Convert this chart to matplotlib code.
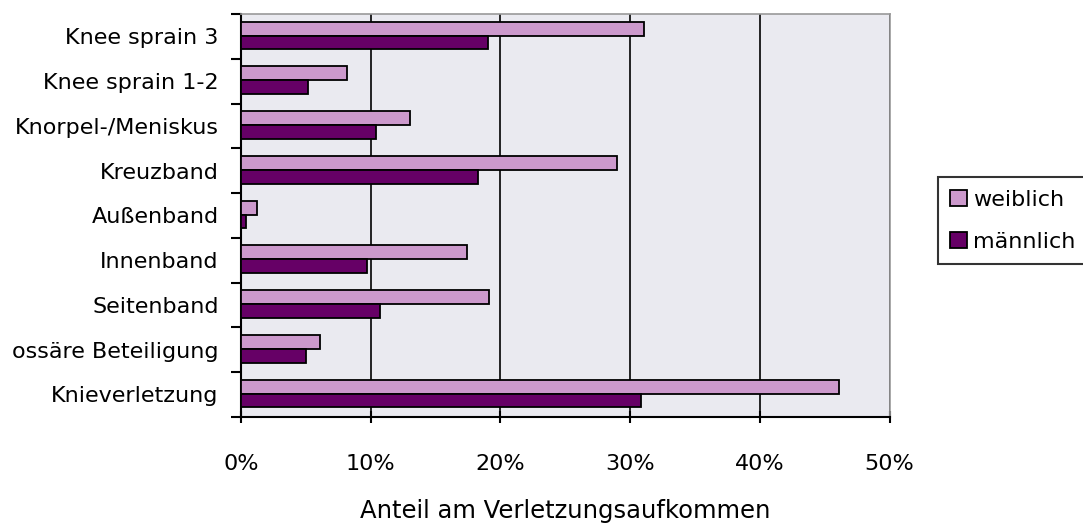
import numpy as np
import matplotlib.pyplot as plt
from matplotlib.ticker import FixedLocator, FuncFormatter

plt.rcParams['font.family'] = ['DejaVu Sans']

# Kategorien von unten nach oben
kategorien = ["Knieverletzung", "ossäre Beteiligung", "Seitenband", "Innenband",
              "Außenband", "Kreuzband", "Knorpel-/Meniskus", "Knee sprain 1-2",
              "Knee sprain 3"]
weiblich = [46.1, 6.1, 19.1, 17.4, 1.25, 29.0, 13.0, 8.2, 31.1]
maennlich = [30.8, 5.0, 10.7, 9.7, 0.35, 18.3, 10.4, 5.15, 19.05]

fig = plt.figure(figsize=(10.83, 5.23), dpi=100)
ax = fig.add_axes([0.2225, 0.203, 0.599, 0.770])
ax.set_facecolor('#EAEAF0')

y = np.arange(len(kategorien))
h = 0.31
ax.barh(y + 0.02 + h / 2, weiblich, height=h, color='#CC99CC', edgecolor='black',
        linewidth=1.3, label='weiblich', zorder=3)
ax.barh(y + 0.02 - h / 2, maennlich, height=h, color='#660066', edgecolor='black',
        linewidth=1.3, label='männlich', zorder=3)

ax.set_xlim(0, 50)
ax.set_ylim(-0.5, len(kategorien) - 0.5)
ax.set_xticks(np.arange(0, 51, 10))
ax.xaxis.set_major_formatter(FuncFormatter(lambda v, p: f"{v:.0f}%"))
ax.grid(axis='x', color='black', linewidth=1.2, zorder=1)
ax.set_axisbelow(True)

ax.set_yticks(y)
ax.set_yticklabels(kategorien, fontsize=16)
ax.tick_params(axis='y', which='major', length=0, pad=16)
ax.yaxis.set_minor_locator(FixedLocator(np.arange(-0.5, len(kategorien), 1)))
ax.tick_params(axis='y', which='minor', length=7, width=1.5, direction='out')
ax.tick_params(axis='x', which='major', length=9, width=1.5, direction='inout',
               labelsize=16, pad=22)

for s in ['top', 'right']:
    ax.spines[s].set_color('#999999')
    ax.spines[s].set_linewidth(1.2)
for s in ['left', 'bottom']:
    ax.spines[s].set_color('black')
    ax.spines[s].set_linewidth(1.5)

ax.set_xlabel("Anteil am Verletzungsaufkommen", fontsize=17.5, labelpad=18)

leg = fig.legend(loc='center left', bbox_to_anchor=(0.866, 0.578), fontsize=16,
                 frameon=True, fancybox=False, edgecolor='black',
                 handlelength=0.77, handleheight=0.77, handletextpad=0.27,
                 borderpad=0.55, labelspacing=1.0, borderaxespad=0)
leg.get_frame().set_linewidth(1.5)

fig.savefig('out.png', dpi=100)
